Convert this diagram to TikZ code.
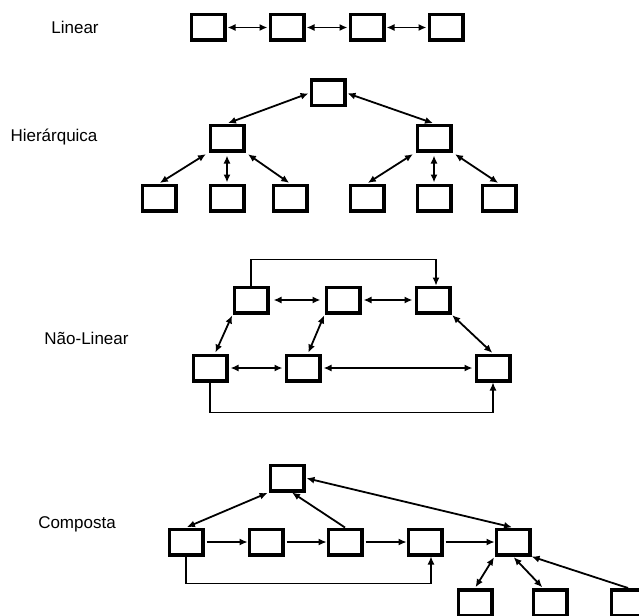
\documentclass[tikz,border=0pt]{standalone}
\usepackage{fontspec}
\setmainfont{Liberation Sans}
\usetikzlibrary{arrows.meta}

\begin{document}
\begin{tikzpicture}[x=1pt,y=-1pt]
\tikzstyle{box}=[draw,line width=3.5pt,minimum width=33.5pt,minimum height=25.5pt,inner sep=0pt]
\tikzstyle{link}=[<->,>={Latex[length=8pt,width=7pt]},line width=1.8pt,shorten <=1pt,shorten >=1pt]
\tikzstyle{flow}=[->,>={Latex[length=8pt,width=7pt]},line width=1.2pt]
\tikzstyle{tag}=[font=\fontsize{17}{20}\selectfont]

\useasboundingbox (0,0) rectangle (639,615);

% Linear
\node[tag] (tlin) at (75,27) {Linear};
\foreach \i/\x in {1/208,2/287,3/367,4/446}
  \node[box] (l\i) at (\x,27.5) {};
\foreach \i/\j in {1/2,2/3,3/4}
  \draw[link] (l\i) -- (l\j);

% Hierarquica
\node[tag] (thier) at (54,137) {Hierárquica};
\node[box] (h0) at (328,93) {};
\node[box] (h1) at (227,138) {};
\node[box] (h2) at (434,138) {};
\foreach \i/\x in {1/159,2/227,3/290}
  \node[box] (h1\i) at (\x,198) {};
\foreach \i/\x in {1/367,2/434,3/499}
  \node[box] (h2\i) at (\x,198) {};

\draw[link] (h0.west) -- (h1.north);
\draw[link] (h0.east) -- (h2.north);
\foreach \p in {1,2}
{
  \draw[link,shorten <=3pt] (h\p.south west) -- (h\p1.north);
  \draw[link,shorten <=3pt] (h\p.south) -- (h\p2.north);
  \draw[link,shorten <=3pt] (h\p.south east) -- (h\p3.north);
}

% Nao-Linear
\node[tag] (tnl) at (86.5,338) {Não-Linear};
\node[box] (n1) at (251,300) {};
\node[box] (n2) at (343,300) {};
\node[box] (n3) at (433,300) {};
\node[box] (n4) at (210,368) {};
\node[box] (n5) at (303,368) {};
\node[box] (n6) at (493,368) {};

\draw[link,shorten <=4pt,shorten >=4pt] (n1) -- (n2);
\draw[link,shorten <=2pt,shorten >=2pt] (n2) -- (n3);
\draw[link,shorten <=2pt,shorten >=2pt] (n4) -- (n5);
\draw[link,shorten <=2pt,shorten >=2pt] (n5) -- (n6);
\draw[link] (n1.south west) -- ([xshift=5pt]n4.north);
\draw[link] (n2.south west) -- ([xshift=5pt]n5.north);
\draw[link] (n3.south east) -- (n6.north);
\draw[flow] (n1.north) -- ++(0,-26) -| ([xshift=3pt]n3.north);
\draw[flow] (n4.south) -- ++(0,30) -| (n6.south);

% Composta
\node[tag] (tcomp) at (77,524) {Composta};
\node[box] (c0) at (287,478) {};
\foreach \i/\x in {1/186,2/266,3/345,4/425,5/513}
  \node[box] (c\i) at (\x,542) {};
\foreach \i/\x in {1/475,2/550,3/628}
  \node[box] (d\i) at (\x,602.5) {};

\draw[link] (c1.north) -- (c0.south west);
\draw[flow,line width=1.8pt] (c3.north) -- ([xshift=5pt]c0.south);
\draw[link] (c0.east) -- (c5.north);
\foreach \i/\j in {1/2,2/3,3/4,4/5}
  \draw[flow,shorten <=2pt] (c\i) -- (c\j);
\draw[flow] (c1.south) -- ++(0,27) -| ([xshift=6pt]c4.south);
\draw[link] (c5.south west) -- (d1.north);
\draw[link] (c5.south) -- ([xshift=-7pt]d2.north);
\draw[flow,line width=1.8pt] (d3.north) -- (c5.south east);

\end{tikzpicture}
\end{document}
